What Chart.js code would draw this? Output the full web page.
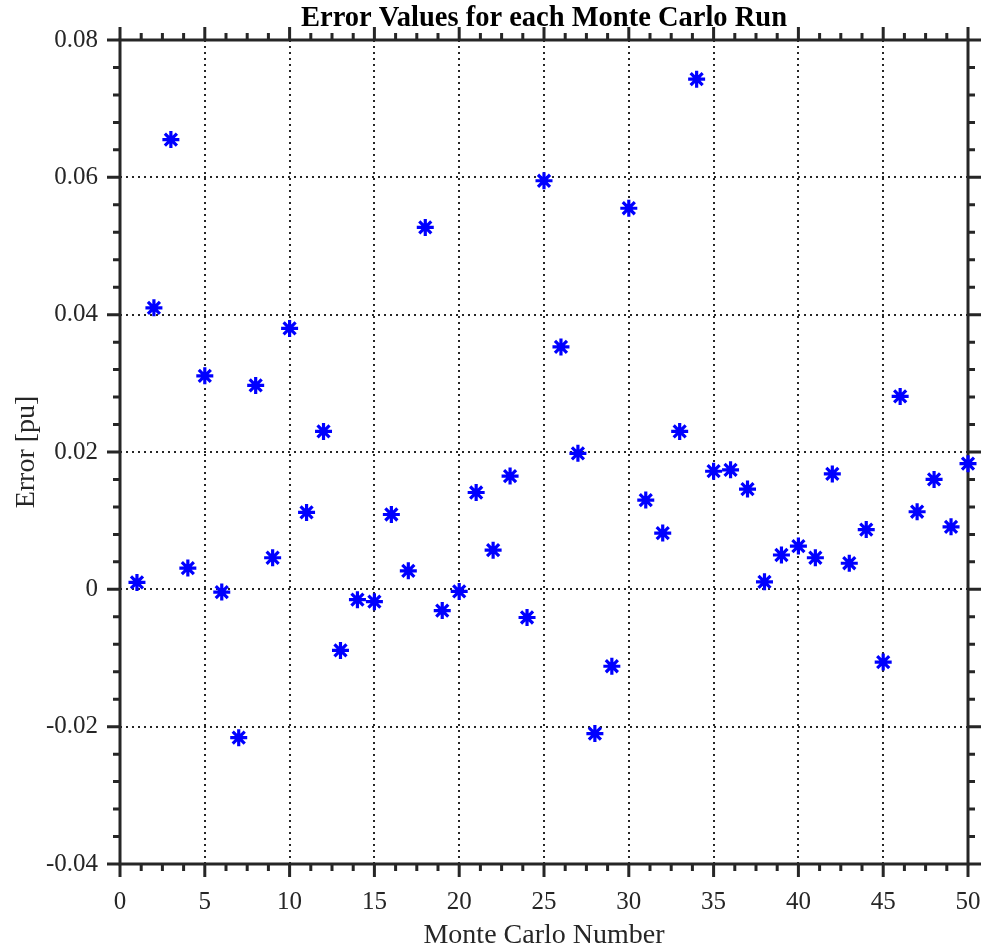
<!DOCTYPE html>
<html>
<head>
<meta charset="utf-8">
<script src="https://cdn.jsdelivr.net/npm/chart.js@4/dist/chart.umd.min.js"></script>
<style>
  html, body { margin: 0; padding: 0; background: #ffffff; }
  #wrap { width: 985px; height: 952px; }
</style>
</head>
<body>
<div id="wrap"><canvas id="c" width="985" height="952"></canvas></div>
<script>
// ---- data ----
const runs = [1,2,3,4,5,6,7,8,9,10,11,12,13,14,15,16,17,18,19,20,21,22,23,24,25,26,27,28,29,30,31,32,33,34,35,36,37,38,39,40,41,42,43,44,45,46,47,48,49,50];
const errors = [0.0010,0.0410,0.0655,0.0031,0.0311,-0.0004,-0.0216,0.0297,0.0046,0.0380,
                0.0112,0.0230,-0.0089,-0.0015,-0.0018,0.0109,0.0027,0.0527,-0.0031,-0.0003,
                0.0141,0.0057,0.0165,-0.0041,0.0595,0.0353,0.0198,-0.0210,-0.0112,0.0555,
                0.0130,0.0082,0.0230,0.0743,0.0172,0.0174,0.0146,0.0011,0.0050,0.0063,
                0.0046,0.0168,0.0038,0.0087,-0.0106,0.0281,0.0113,0.0160,0.0091,0.0183];
const xTicks = [0,5,10,15,20,25,30,35,40,45,50];
const xTickLabels = ['0','5','10','15','20','25','30','35','40','45','50'];
const yTicks = [-0.04,-0.02,0,0.02,0.04,0.06,0.08];
const yTickLabels = ['-0.04','-0.02','0','0.02','0.04','0.06','0.08'];
const xMinorStep = 1.25;
const yMinorStep = 0.004;
const chartTitle = 'Error Values for each Monte Carlo Run';
const xTitle = 'Monte Carlo Number';
const yTitle = 'Error [pu]';

const AX = '#262626';
const FONT = "'Liberation Serif', 'Times New Roman', serif";

const framePlugin = {
  id: 'matlabFrame',
  beforeDatasetsDraw(chart) {
    const ctx = chart.ctx;
    const a = chart.chartArea;
    const xs = chart.scales.x, ys = chart.scales.y;
    ctx.save();
    // dotted grid
    ctx.strokeStyle = '#262626';
    ctx.lineWidth = 2;
    ctx.setLineDash([2, 4]);
    xTicks.forEach(v => {
      if (v === xTicks[0] || v === xTicks[xTicks.length - 1]) return;
      const px = Math.round(xs.getPixelForValue(v));
      ctx.beginPath(); ctx.moveTo(px, a.top); ctx.lineTo(px, a.bottom); ctx.stroke();
    });
    yTicks.forEach(v => {
      if (v === yTicks[0] || v === yTicks[yTicks.length - 1]) return;
      const py = Math.round(ys.getPixelForValue(v));
      ctx.beginPath(); ctx.moveTo(a.left, py); ctx.lineTo(a.right, py); ctx.stroke();
    });
    ctx.setLineDash([]);
    // frame
    ctx.strokeStyle = AX;
    ctx.lineWidth = 3;
    ctx.strokeRect(a.left, a.top, a.right - a.left, a.bottom - a.top);
    // ticks (outward on all four sides)
    const MAJ = 13, MIN = 7;
    const drawX = (v, len) => {
      const px = xs.getPixelForValue(v);
      ctx.beginPath();
      ctx.moveTo(px, a.bottom); ctx.lineTo(px, a.bottom + len);
      ctx.moveTo(px, a.top); ctx.lineTo(px, a.top - len);
      ctx.stroke();
    };
    const drawY = (v, len) => {
      const py = ys.getPixelForValue(v);
      ctx.beginPath();
      ctx.moveTo(a.left, py); ctx.lineTo(a.left - len, py);
      ctx.moveTo(a.right, py); ctx.lineTo(a.right + len, py);
      ctx.stroke();
    };
    ctx.lineWidth = 3;
    const x0 = xTicks[0], x1 = xTicks[xTicks.length - 1];
    for (let k = 0; x0 + k * xMinorStep <= x1 + 1e-9; k++) {
      const v = x0 + k * xMinorStep;
      const isMajor = xTicks.some(t => Math.abs(t - v) < 1e-9);
      drawX(v, isMajor ? MAJ : MIN);
    }
    const y0 = yTicks[0], y1 = yTicks[yTicks.length - 1];
    for (let k = 0; y0 + k * yMinorStep <= y1 + 1e-9; k++) {
      const v = y0 + k * yMinorStep;
      const isMajor = yTicks.some(t => Math.abs(t - v) < 1e-9);
      drawY(v, isMajor ? MAJ : MIN);
    }
    ctx.restore();
  }
};

new Chart(document.getElementById('c'), {
  type: 'scatter',
  data: {
    datasets: [{
      data: runs.map((r, i) => ({ x: r, y: errors[i] })),
      pointStyle: 'star',
      pointRadius: 8.5,
      pointHoverRadius: 8.5,
      borderColor: '#0000ff',
      backgroundColor: '#0000ff',
      pointBorderWidth: 3.2,
      borderWidth: 3.2,
      showLine: false,
      clip: false
    }]
  },
  options: {
    responsive: false,
    animation: false,
    events: [],
    layout: { padding: { top: 0, right: 17, left: 0, bottom: 0 } },
    plugins: {
      legend: { display: false },
      tooltip: { enabled: false },
      title: { display: false }
    },
    scales: {
      x: {
        type: 'linear',
        position: 'bottom',
        min: 0, max: 50,
        afterBuildTicks: s => { s.ticks = xTicks.map(v => ({ value: v })); },
        afterFit: s => { s.height = 88; s.paddingLeft = 0; s.paddingRight = 0; },
        grid: { display: false, drawTicks: false },
        border: { display: false },
        ticks: {
          autoSkip: false, maxRotation: 0, padding: 23,
          color: AX,
          font: { family: FONT, size: 25 },
          callback: (v, i) => xTickLabels[i]
        },
        title: {
          display: true, text: xTitle, color: AX,
          font: { family: FONT, size: 28 },
          padding: { top: 0, bottom: 0 }
        }
      },
      xTop: {
        type: 'linear',
        position: 'top',
        min: 0, max: 50,
        afterFit: s => { s.height = 40; s.paddingLeft = 0; s.paddingRight = 0; },
        grid: { display: false, drawTicks: false },
        border: { display: false },
        ticks: { display: false },
        title: {
          display: true, text: chartTitle, color: '#000000',
          font: { family: FONT, size: 28.5, weight: 'bold' },
          padding: { top: 2, bottom: 0 }
        }
      },
      y: {
        type: 'linear',
        position: 'left',
        min: -0.04, max: 0.08,
        afterBuildTicks: s => { s.ticks = yTicks.map(v => ({ value: v })); },
        afterFit: s => { s.width = 120; s.paddingTop = 0; s.paddingBottom = 0; },
        grid: { display: false, drawTicks: false },
        border: { display: false },
        ticks: {
          autoSkip: false, padding: 22,
          color: AX,
          font: { family: FONT, size: 25 },
          callback: (v, i) => yTickLabels[i]
        },
        title: {
          display: true, text: yTitle, color: AX,
          font: { family: FONT, size: 28 },
          padding: { top: 10, bottom: 0 }
        }
      }
    }
  },
  plugins: [framePlugin]
});
</script>
</body>
</html>
